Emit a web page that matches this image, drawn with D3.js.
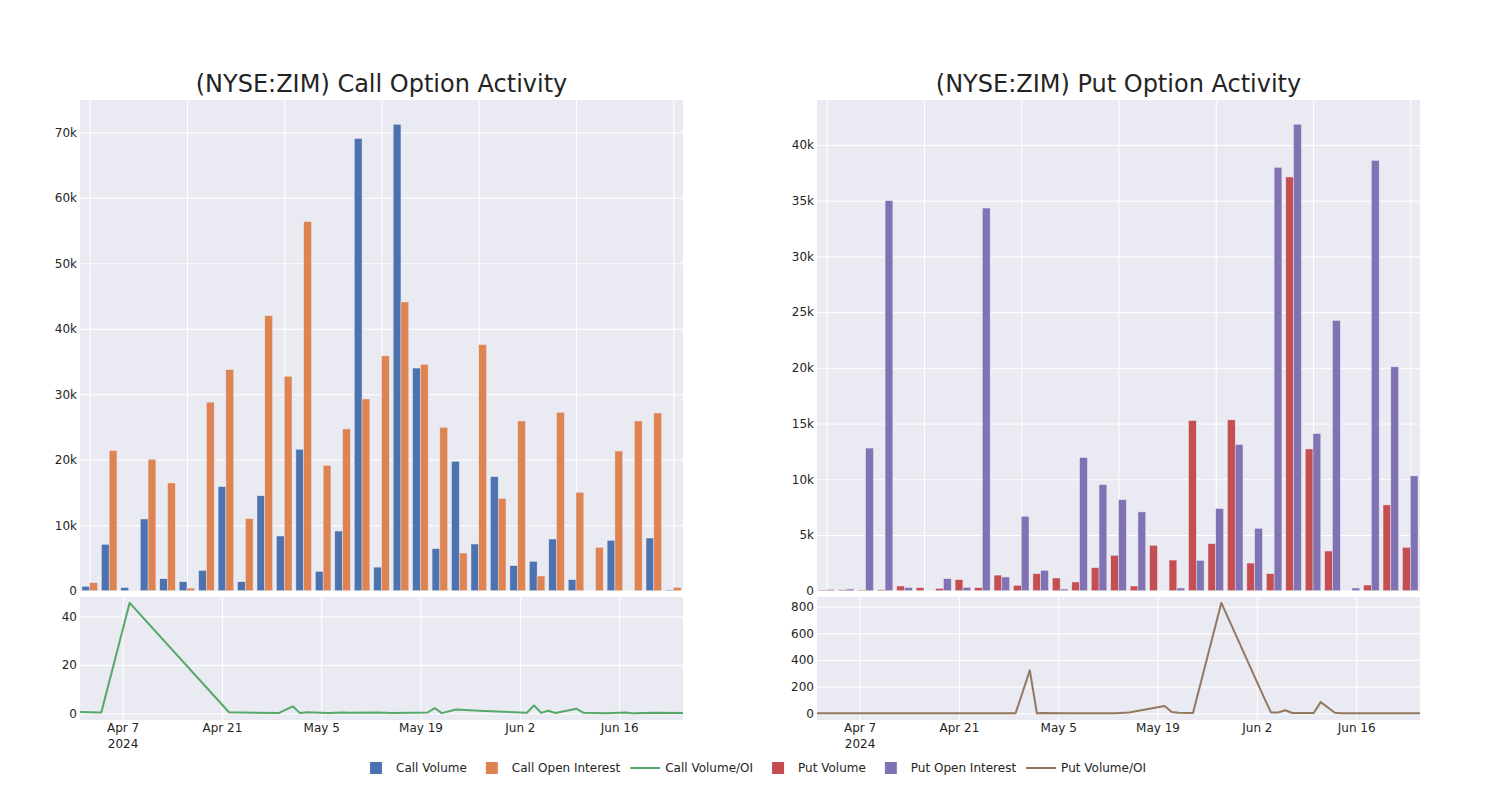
<!DOCTYPE html>
<html><head><meta charset="utf-8">
<script src="https://cdn.jsdelivr.net/npm/d3@7"></script>
<style>
body{margin:0;background:#fff}
svg{display:block}
text{font-family:"DejaVu Sans",sans-serif;fill:#242424}
</style>
</head><body><svg id="c" width="1500" height="800"></svg>
<script>
// ---------- data ----------
const dates=["2024-04-01","2024-04-04","2024-04-08","2024-04-22","2024-04-29","2024-05-01","2024-05-02","2024-05-03","2024-05-06","2024-05-08","2024-05-09","2024-05-13","2024-05-15","2024-05-20","2024-05-21","2024-05-22","2024-05-24","2024-05-28","2024-06-03","2024-06-04","2024-06-05","2024-06-06","2024-06-07","2024-06-10","2024-06-11","2024-06-13","2024-06-14","2024-06-17","2024-06-18","2024-06-21","2024-06-25"];
const callVolume=[660,7080,460,10950,1830,1370,3100,15900,1370,14500,8350,21600,2950,9110,69040,3600,71230,34000,6420,19760,7130,17410,3820,4480,7890,1680,0,7690,0,8040,100];
const callOI=[1220,21400,10,20060,16450,400,28800,33760,11000,42000,32740,56360,19140,24700,29280,35850,44090,34570,24950,5750,37580,14100,25920,2240,27240,15020,6620,21330,25920,27140,500];
const callRatio=[0.54,0.33,45.6,0.45,0.11,2.9,0.11,0.47,0.12,0.35,0.26,0.38,0.15,0.37,2.2,0.1,1.6,1.0,0.26,3.3,0.19,1.05,0.15,1.9,0.25,0.11,0,0.36,0,0.3,0.2];
const putVolume=[50,80,50,80,420,270,210,990,270,1400,480,1530,1140,780,2070,3170,420,4070,2750,15270,4220,15330,2480,1530,37130,12720,3560,0,510,7700,3890];
const putOI=[100,150,12800,35000,270,0,1080,300,34340,1230,6680,1830,150,11950,9520,8170,7070,0,240,2720,7370,13110,5600,37990,41860,14100,24250,240,38620,20090,10300];
const putRatio=[0.5,0.5,0,0,1.5,322,0.2,3,0,1,0.2,0.5,7,55,10,5,2,828,120,7,7,23,3,2,84,5,0.2,0,0,0.4,0.4];
const callTicks=[0,10000,20000,30000,40000,50000,60000,70000];
const putTicks=[0,5000,10000,15000,20000,25000,30000,35000,40000];
const callLineTicks=[0,20,40];
const putLineTicks=[0,200,400,600,800];
const dateTicks=["2024-04-07","2024-04-21","2024-05-05","2024-05-19","2024-06-02","2024-06-16"];
const catGridIdx=[0,5,10,15,20,25,30];

// ---------- drawing ----------
const FONT='"DejaVu Sans",sans-serif';
const svg=d3.select("#c");
svg.append("rect").attr("width",1500).attr("height",800).attr("fill","#fff");
const BG="#EAEAF2";
const parse=d3.utcParse("%Y-%m-%d");
const dateObjs=dates.map(parse);
const kfmt=v=>v===0?"0":(v/1000)+"k";
const mfmt=d3.utcFormat("%b %-d");

function styleAxis(g){
  g.select(".domain").remove();
  g.selectAll(".tick line").attr("stroke","#fff").attr("stroke-width",1);
  g.selectAll(".tick text").attr("font-size",12).attr("fill","#242424").attr("font-family",FONT);
}

function panel(c){
  const x0=c.x0,x1=c.x1,top=100,bot=590.7,lt=597,lb=720;
  svg.append("text").attr("x",(x0+x1)/2).attr("y",92).attr("text-anchor","middle")
    .attr("font-size",24).attr("fill","#2a2a2a").text(c.title);
  // ---- top bar panel
  svg.append("rect").attr("x",x0).attr("y",top).attr("width",x1-x0).attr("height",bot-top).attr("fill",BG);
  const n=dates.length;
  const xb=d3.scaleBand().domain(d3.range(n)).range([x0,x1]).paddingInner(0.2).paddingOuter(0.1);
  const xi=d3.scaleBand().domain([0,1]).range([0,xb.bandwidth()]);
  const xc=d3.scaleLinear().domain([-0.5,n-0.5]).range([x0,x1]);
  const ymax=d3.max([...c.vol,...c.oi])*1.052;
  const y=d3.scaleLinear().domain([0,ymax]).range([bot,top]);
  const gx=svg.append("g").attr("transform",`translate(0,${bot})`)
    .call(d3.axisBottom(xc).tickValues(catGridIdx).tickSize(-(bot-top)).tickFormat(""));
  styleAxis(gx);
  const gy=svg.append("g").attr("transform",`translate(${x0},0)`)
    .call(d3.axisLeft(y).tickValues(c.yTicks).tickFormat(kfmt).tickSize(-(x1-x0)).tickPadding(3));
  styleAxis(gy);
  const series=[{v:c.vol,col:c.cVol},{v:c.oi,col:c.cOI}];
  series.forEach((s,si)=>{
    svg.append("g").selectAll("rect").data(s.v).join("rect")
      .attr("x",(d,i)=>xb(i)+xi(si))
      .attr("width",xi.bandwidth())
      .attr("y",d=>y(d))
      .attr("height",d=>Math.max(0,bot-y(d)))
      .attr("fill",s.col)
      .attr("stroke",d=>d>0?"rgba(234,234,242,0.9)":"none")
      .attr("stroke-width",0.5);
  });
  // ---- bottom line panel
  svg.append("rect").attr("x",x0).attr("y",lt).attr("width",x1-x0).attr("height",lb-lt).attr("fill",BG);
  const xd=d3.scaleUtc().domain(d3.extent(dateObjs)).range([x0,x1]);
  const mn=d3.min(c.ratio),mx=d3.max(c.ratio),sp=mx-mn;
  const yl=d3.scaleLinear().domain([mn-sp*0.06,mx+sp*0.053]).range([lb,lt]);
  const gxd=svg.append("g").attr("transform",`translate(0,${lb})`)
    .call(d3.axisBottom(xd).tickValues(dateTicks.map(parse)).tickSize(-(lb-lt)).tickPadding(3).tickFormat(mfmt));
  styleAxis(gxd);
  gxd.selectAll(".tick text").each(function(d,i){
    if(i===0){
      d3.select(this).append("tspan").attr("x",0).attr("dy","1.35em").text("2024");
    }
  });
  const gyl=svg.append("g").attr("transform",`translate(${x0},0)`)
    .call(d3.axisLeft(yl).tickValues(c.lineTicks).tickSize(-(x1-x0)).tickPadding(3));
  styleAxis(gyl);
  const line=d3.line().x((d,i)=>xd(dateObjs[i])).y(d=>yl(d));
  svg.append("path").datum(c.ratio).attr("d",line).attr("fill","none")
    .attr("stroke",c.cLine).attr("stroke-width",2).attr("stroke-linejoin","round");
}

panel({x0:80,x1:683,title:"(NYSE:ZIM) Call Option Activity",vol:callVolume,oi:callOI,ratio:callRatio,
  cVol:"#4C72B0",cOI:"#DD8452",cLine:"#55A868",yTicks:callTicks,lineTicks:callLineTicks});
panel({x0:817,x1:1420,title:"(NYSE:ZIM) Put Option Activity",vol:putVolume,oi:putOI,ratio:putRatio,
  cVol:"#C44E52",cOI:"#8172B3",cLine:"#937860",yTicks:putTicks,lineTicks:putLineTicks});

// ---------- legend ----------
const legendItems=[
  {name:"Call Volume",type:"bar",col:"#4C72B0"},
  {name:"Call Open Interest",type:"bar",col:"#DD8452"},
  {name:"Call Volume/OI",type:"line",col:"#55A868"},
  {name:"Put Volume",type:"bar",col:"#C44E52"},
  {name:"Put Open Interest",type:"bar",col:"#8172B3"},
  {name:"Put Volume/OI",type:"line",col:"#937860"}
];
const lg=svg.append("g");
let lx=356; const ly=768;
legendItems.forEach(it=>{
  const g=lg.append("g");
  const cx=lx+20;
  if(it.type==="bar"){
    g.append("rect").attr("x",cx-6).attr("y",ly-6).attr("width",12).attr("height",12).attr("fill",it.col);
  }else{
    g.append("line").attr("x1",cx-15).attr("x2",cx+15).attr("y1",ly).attr("y2",ly).attr("stroke",it.col).attr("stroke-width",2);
  }
  const t=g.append("text").attr("x",lx+40).attr("y",ly).attr("dy","0.35em").attr("font-size",12).text(it.name);
  const w=t.node().getComputedTextLength();
  lx=lx+40+w+5;
});
</script>
</body></html>
